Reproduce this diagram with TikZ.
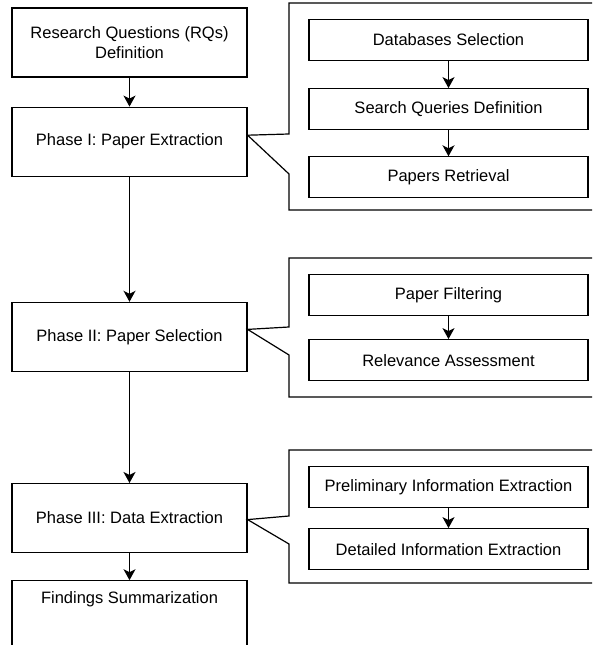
\documentclass[tikz,border=0pt]{standalone}
\usepackage{fontspec}
\setmainfont{Liberation Sans}
\usepackage{tikz}
\usetikzlibrary{positioning}
\usetikzlibrary{arrows.meta}

\tikzset{
    phasebox/.style={draw, line width=1.2pt, inner sep=0pt, minimum width=235pt, minimum height=69pt, align=center, font=\fontsize{16.5}{20}\selectfont},
    subbox/.style={draw, line width=1.2pt, inner sep=0pt, minimum width=279pt, minimum height=41pt, align=center, font=\fontsize{16.5}{20}\selectfont},
    flow/.style={line width=1.3pt, -{Stealth[length=11pt,width=12pt,inset=3pt]}},
    calloutline/.style={line width=1.2pt, line join=miter}
}

\begin{document}
\begin{tikzpicture}[x=1pt, y=1pt]
            \useasboundingbox (0,0) rectangle (592,645);
            \clip (0,0) rectangle (592,645);
            \node[phasebox] (rq_definition) at (129.5,602.5) {Research Questions (RQs) \\ Definition};
            \node[phasebox] (paper_extraction) [below=29pt of rq_definition] {Phase I: Paper Extraction};
            \node[phasebox] (paper_selection) [below=125pt of paper_extraction] {Phase II: Paper Selection};
            \node[phasebox] (data_extraction) [below=111pt of paper_selection] {Phase III: Data Extraction};
            \node[phasebox, text height=23pt, text depth=60pt] (findings) [below=27pt of data_extraction] {Findings Summarization};
            \draw[flow] (rq_definition) -- (paper_extraction);
            \draw[flow] (paper_extraction) -- (paper_selection);
            \draw[flow] (paper_selection) -- (data_extraction);
            \draw[flow] (data_extraction) -- (findings);

            \node[subbox] (db_selection) at (448.5,605) {Databases Selection};
            \node[subbox] (query_definition) [below=27pt of db_selection] {Search Queries Definition};
            \node[subbox] (paper_retrieval) [below=26pt of query_definition] {Papers Retrieval};
            \draw[flow] (db_selection) -- (query_definition);
            \draw[flow] (query_definition) -- (paper_retrieval);
            \draw[calloutline] (600,642) -| (289,511) -- ([yshift=6.5pt]paper_extraction.east) -- (289,471) |- (600,435);

            \node[subbox] (paper_filtering) at (448.5,350) {Paper Filtering};
            \node[subbox] (relevance) [below=23pt of paper_filtering] {Relevance Assessment};
            \draw[flow] (paper_filtering) -- (relevance);
            \draw[calloutline] (600,387) -| (289,318) -- ([yshift=7.5pt]paper_selection.east) -- (289,290) |- (600,248);

            \node[subbox] (prelim_info) at (448.5,158) {Preliminary Information Extraction};
            \node[subbox] (detailed_info) [below=20pt of prelim_info] {Detailed Information Extraction};
            \draw[flow] (prelim_info) -- (detailed_info);
            \draw[calloutline] (600,195) -| (289,129) -- ([yshift=-1.5pt]data_extraction.east) -- (289,101) |- (600,62);
        \end{tikzpicture}
\end{document}
